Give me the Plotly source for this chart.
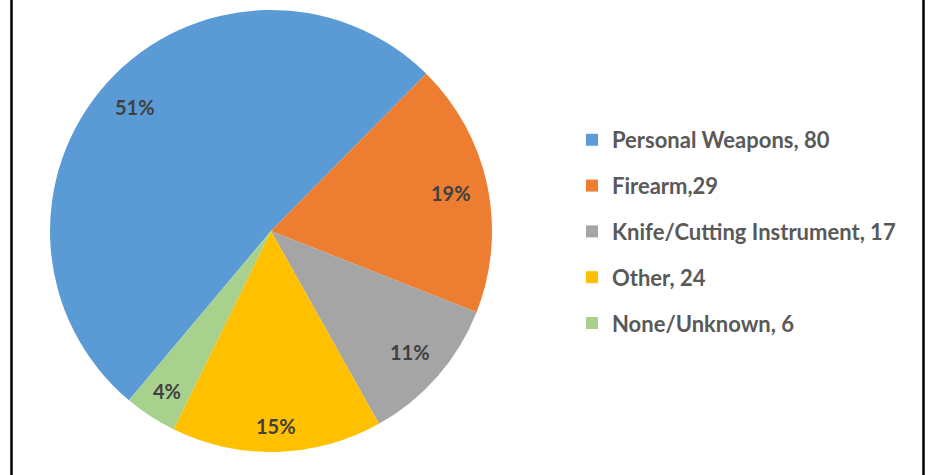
import math
import plotly.graph_objects as go

# Daten
labels = ['Personal Weapons, 80', 'Firearm,29', 'Knife/Cutting Instrument, 17',
          'Other, 24', 'None/Unknown, 6']
values = [80, 29, 17, 24, 6]
colors = ['#5B9BD5', '#ED7D31', '#A5A5A5', '#FFC000', '#A9D18E']

W, H = 930, 475

# Pie position (Pixel)
cx, cy, r = 271, 231, 221
rotation = 220


def px(x):
    return x / W


def py(y):
    return 1 - y / H


fig = go.Figure()
fig.add_trace(go.Pie(
    labels=labels,
    values=values,
    sort=False,
    direction='clockwise',
    rotation=rotation,
    marker=dict(colors=colors, line=dict(width=0)),
    textinfo='none',
    domain=dict(x=[px(cx - r), px(cx + r)], y=[py(cy + r), py(cy - r)]),
))

# leerer Eintrag, damit tracegroupgap zwischen den Kreis-Segmenten wirkt
fig.add_trace(go.Scatter(x=[None], y=[None], mode='markers', name='',
                         marker=dict(size=1, color='rgba(0,0,0,0)',
                                     line=dict(width=0)),
                         legendgroup='spacer', hoverinfo='skip'))

# Prozent-Beschriftungen wie "inside end" (aus den Werten berechnet)
total = sum(values)
cum = 0
annotations = []
for v in values:
    mid = math.radians(rotation + (cum + v / 2) / total * 360)
    cum += v
    txt = f'{round(v / total * 100)}%'
    hw, hh = 7 * len(txt) - 1, 10
    d = r - 15 - (abs(math.sin(mid)) * hw + abs(math.cos(mid)) * hh)
    annotations.append(dict(
        x=px(cx + d * math.sin(mid)), y=py(cy - d * math.cos(mid)),
        xref='paper', yref='paper', text=txt, showarrow=False,
        xanchor='center', yanchor='middle',
        font=dict(family='Lato', size=20, color='#404040', weight='bold'),
    ))

fig.update_layout(
    width=W, height=H,
    margin=dict(l=0, r=0, t=0, b=0),
    paper_bgcolor='white',
    plot_bgcolor='white',
    xaxis=dict(visible=False),
    yaxis=dict(visible=False),
    showlegend=True,
    legend=dict(
        x=px(572), xanchor='left',
        y=py(119), yanchor='top',
        traceorder='grouped',
        tracegroupgap=14.2,
        font=dict(family='Lato', size=22, color='#595959', weight='bold'),
    ),
    annotations=annotations,
    shapes=[
        dict(type='line', xref='paper', yref='paper', x0=px(11.5), x1=px(11.5),
             y0=0, y1=1, line=dict(color='black', width=2.5)),
        dict(type='line', xref='paper', yref='paper', x0=px(923.5), x1=px(923.5),
             y0=0, y1=1, line=dict(color='black', width=2.5)),
    ],
)

fig.write_html('out.html', config={'displayModeBar': False},
               post_script="document.body.style.margin='0';")
